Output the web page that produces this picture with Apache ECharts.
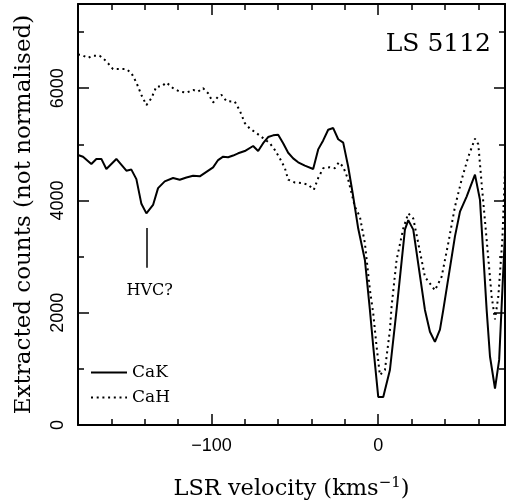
<!DOCTYPE html>
<html>
<head>
<meta charset="utf-8">
<script src="https://cdn.jsdelivr.net/npm/echarts@6/dist/echarts.min.js"></script>
<style>
  html, body { margin: 0; padding: 0; background: #fff; }
  #chart { width: 506px; height: 504px; }
</style>
</head>
<body>
<div id="chart"></div>
<script>
// CaK (solid) - velocity (km/s) and extracted counts
const velK = [-180, -177, -172, -169, -166, -163, -157, -151, -148, -145, -142, -139, -135, -132,
  -128, -123, -119, -115, -111, -107, -103, -99, -96, -93, -90, -87, -84, -80, -75, -72, -69,
  -66, -63, -60, -57, -54, -51, -48, -44, -39, -36, -33, -30, -27, -24, -21, -18, -15, -12,
  -8, -5, -3, 0, 3, 7, 11, 16, 18, 21, 28, 31, 34, 37, 39, 46, 49, 53, 58, 61, 65, 67, 70,
  72.5, 76];
const cntK = [4810, 4780, 4650, 4740, 4740, 4560, 4740, 4530, 4550, 4380, 3940, 3770, 3920, 4220,
  4340, 4400, 4370, 4410, 4440, 4430, 4510, 4590, 4720, 4780, 4770, 4800, 4840, 4880, 4970, 4880, 5020,
  5130, 5160, 5170, 5020, 4850, 4750, 4680, 4620, 4560, 4910, 5070, 5260, 5290, 5090, 5030, 4600, 4070, 3500,
  2940, 2050, 1400, 500, 500, 980, 2050, 3480, 3650, 3480, 2050, 1660, 1480, 1700, 2050, 3360, 3800, 4070,
  4460, 4010, 2050, 1220, 650, 1160, 3420];

// CaH (dotted)
const velH = [-180, -178, -174, -171, -167, -163, -159, -155, -151, -148, -145, -142, -139, -136,
  -133, -130, -127, -123, -119, -115, -111, -108, -105, -102, -99, -96, -94, -91, -86, -83, -80,
  -77, -73, -69, -65, -62, -59, -56, -54, -50, -46, -42, -38.6, -36, -33, -29, -26, -23.6, -21,
  -18, -14, -11, -8, -5, -3, -1, 1, 4, 7, 8, 11, 15, 18, 21, 24, 28, 34, 38, 42, 46, 50, 54,
  58, 60, 62, 65, 68, 70, 72, 74.4, 76];
const cntH = [6600, 6595, 6540, 6580, 6580, 6480, 6340, 6340, 6340, 6270, 6100, 5880, 5700, 5820,
  6030, 6030, 6100, 6000, 5940, 5920, 5970, 5940, 6000, 5910, 5745, 5850, 5880, 5770, 5760, 5600, 5380,
  5280, 5200, 5110, 5020, 4900, 4750, 4580, 4370, 4320, 4310, 4280, 4190, 4400, 4575, 4590, 4575, 4680, 4600,
  4370, 3890, 3710, 3240, 2410, 1990, 1400, 890, 980, 1690, 2110, 2940, 3500, 3770, 3680, 3240, 2640, 2400, 2640,
  3240, 3890, 4370, 4780, 5100, 5000, 4300, 3300, 2290, 1880, 2290, 3300, 4550];

const xLabels = [-100, 0];
const yLabels = [0, 2000, 4000, 6000];
const hvcVel = -139;
const hvcLine = [3510, 2800];
const hvcText = [-137, 2390];

const serif = 'DejaVu Serif';
const sans = 'Liberation Sans';

const chart = echarts.init(document.getElementById('chart'), null, { renderer: 'canvas' });

const frame = { show: true, onZero: false, lineStyle: { color: '#000', width: 2 } };
const hidden = { show: false, onZero: false };
const tickStyle = { color: '#000', width: 1.5 };

function xAx(pos, extra) {
  return Object.assign({
    type: 'value', position: pos, min: -180, max: 76,
    axisLine: frame, splitLine: { show: false }, axisLabel: { show: false }
  }, extra);
}
function yAx(pos, extra) {
  return Object.assign({
    type: 'value', position: pos, min: 0, max: 7500,
    axisLine: frame, splitLine: { show: false }, axisLabel: { show: false }
  }, extra);
}

const option = {
  animation: false,
  backgroundColor: '#fff',
  title: {
    text: 'LS 5112', right: 10, top: 27,
    textStyle: { fontFamily: serif, fontSize: 25, fontWeight: 'normal', color: '#000' }
  },
  legend: {
    orient: 'vertical', left: 90, top: 364, padding: 0, itemWidth: 36, itemHeight: 14, itemGap: 8,
    itemStyle: { opacity: 0 },
    textStyle: { fontFamily: serif, fontSize: 17, color: '#000' },
    data: ['CaK', 'CaH']
  },
  grid: { left: 78, right: 1, top: 4, bottom: 79, outerBoundsMode: 'none' },
  xAxis: [
    xAx('bottom', {
      interval: 20,
      axisTick: { inside: true, length: 6, lineStyle: tickStyle },
      axisLabel: {
        show: true, margin: 12, fontFamily: sans, fontSize: 18, color: '#000',
        formatter: (v) => xLabels.includes(v) ? (v < 0 ? '\u2212' + Math.abs(v) : String(v)) : ''
      },
      name: 'LSR velocity (kms{sup|\u22121})', nameLocation: 'middle', nameGap: 51,
      nameMoveOverlap: false,
      nameTextStyle: {
        fontFamily: serif, fontSize: 22.5, color: '#000',
        rich: { sup: { fontFamily: serif, fontSize: 15, color: '#000', verticalAlign: 'top', padding: [0, 0, 12, 0] } }
      }
    }),
    xAx('bottom', {
      axisLine: hidden,
      axisTick: { inside: true, length: 11, customValues: xLabels, lineStyle: tickStyle }
    }),
    xAx('top', {
      interval: 20,
      axisTick: { inside: true, length: 6, lineStyle: tickStyle }
    }),
    xAx('top', {
      axisLine: hidden,
      axisTick: { inside: true, length: 11, customValues: xLabels, lineStyle: tickStyle }
    })
  ],
  yAxis: [
    yAx('left', {
      interval: 1000,
      axisTick: { inside: true, length: 6, lineStyle: tickStyle },
      axisLabel: {
        show: true, rotate: 90, margin: 11, fontFamily: sans, fontSize: 18, color: '#000',
        formatter: (v) => yLabels.includes(v) ? String(v) : ''
      },
      name: 'Extracted counts (not normalised)', nameLocation: 'middle', nameGap: 42,
      nameMoveOverlap: false,
      nameTextStyle: { fontFamily: serif, fontSize: 23, color: '#000' }
    }),
    yAx('left', {
      interval: 2000, axisLine: hidden,
      axisTick: { inside: true, length: 11, lineStyle: tickStyle }
    }),
    yAx('right', {
      interval: 1000,
      axisTick: { inside: true, length: 6, lineStyle: tickStyle }
    }),
    yAx('right', {
      interval: 2000, axisLine: hidden,
      axisTick: { inside: true, length: 11, lineStyle: tickStyle }
    })
  ],
  series: [
    {
      name: 'CaK', type: 'line', symbol: 'none',
      data: velK.map((v, i) => [v, cntK[i]]),
      lineStyle: { color: '#000', width: 2, type: 'solid' },
      itemStyle: { color: '#000' },
      markLine: {
        silent: true, symbol: 'none', label: { show: false },
        lineStyle: { color: '#000', type: 'solid', width: 1.5 },
        data: [[{ coord: [hvcVel, hvcLine[0]] }, { coord: [hvcVel, hvcLine[1]] }]]
      },
      markPoint: {
        silent: true, symbol: 'circle', symbolSize: 0,
        label: {
          show: true, position: 'inside', formatter: 'HVC?',
          fontFamily: serif, fontSize: 16, color: '#000'
        },
        data: [{ coord: hvcText }]
      }
    },
    {
      name: 'CaH', type: 'line', symbol: 'none',
      data: velH.map((v, i) => [v, cntH[i]]),
      lineStyle: { color: '#000', width: 2, type: [2, 3.7] },
      itemStyle: { color: '#000' }
    }
  ]
};

chart.setOption(option);
</script>
</body>
</html>
